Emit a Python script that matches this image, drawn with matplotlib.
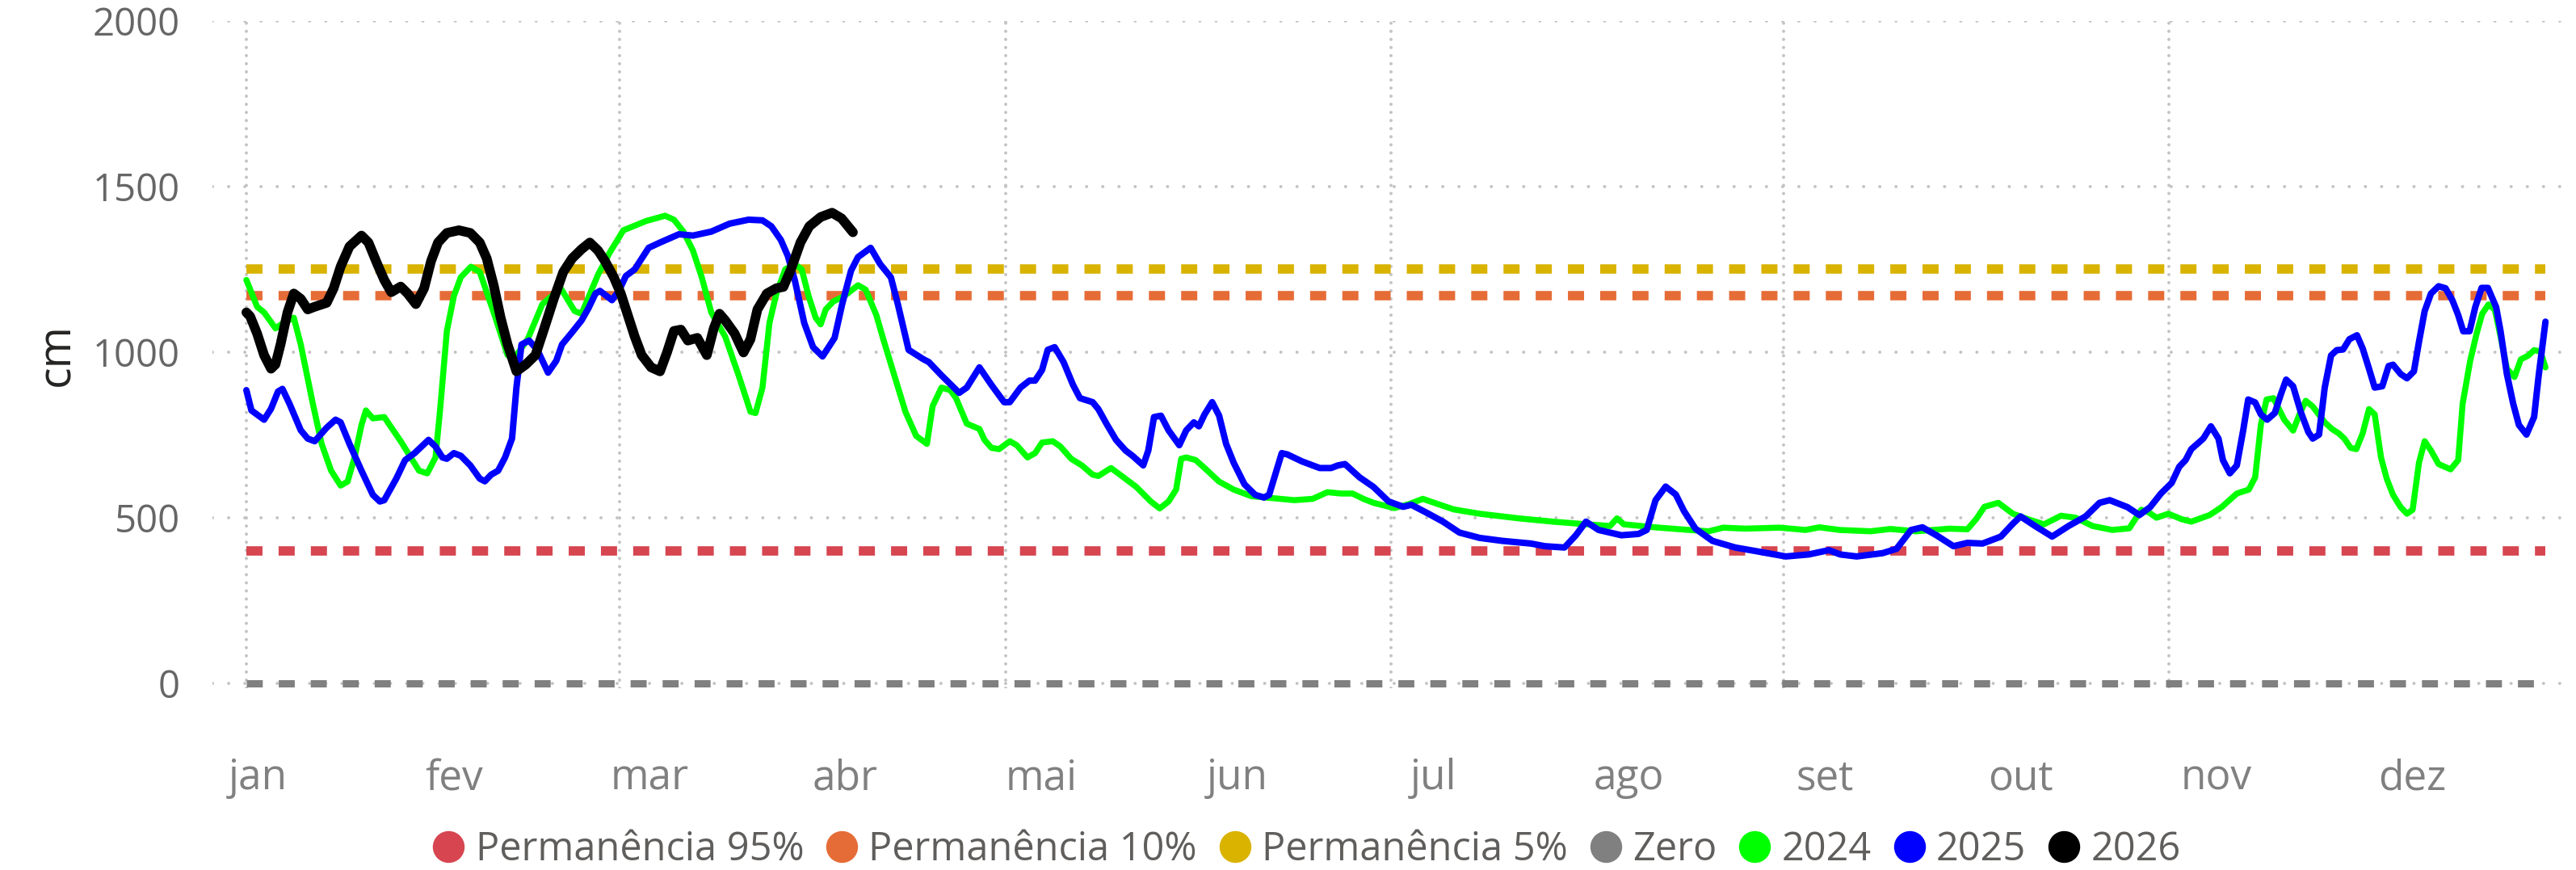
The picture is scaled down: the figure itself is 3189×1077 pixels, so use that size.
import numpy as np
import matplotlib
matplotlib.use("Agg")
import matplotlib.pyplot as plt
from matplotlib.lines import Line2D

plt.rcParams["font.family"] = ["Open Sans", "DejaVu Sans"]

# ---------------------------------------------------------
# Data (day of year, value in cm)
# ---------------------------------------------------------
months = ["jan", "fev", "mar", "abr", "mai", "jun",
          "jul", "ago", "set", "out", "nov", "dez"]

ref_days = [0, 363.5]
perm95 = 400
perm10 = 1170
perm5 = 1250
zero = 0

days_2024 = [0, 1.7, 2.8, 4.6, 6.0, 7.5, 8.6, 10.5, 11.9, 13.4, 14.9, 16.0, 17.1, 18.2, 18.9, 20.0,
             21.8, 24.4, 27.3, 28.6, 29.9, 30.6, 31.7, 32.8, 33.9, 35.5, 36.9, 39.1, 41.3, 42.5,
             44.5, 46.8, 49.7, 51.9, 53.0, 55.6, 57.4, 59.6, 63.2, 66.2, 67.6, 69.1, 70.6, 72.0,
             73.5, 75.7, 77.9, 79.7, 80.5, 81.6, 82.7, 83.8, 85.2, 86.7, 87.8, 88.9, 90.0, 90.8,
             91.6, 92.8, 94.5, 96.7, 97.9, 99.6, 100.7, 102.5, 104.2, 105.9, 107.6, 108.5, 109.9,
             111.3, 112.2, 113.9, 115.9, 116.7, 117.8, 119.0, 120.7, 121.8, 123.5, 124.7, 125.8,
             127.5, 128.7, 130.4, 132.1, 133.8, 134.7, 136.7, 138.4, 140.7, 143.0, 144.4, 145.8,
             147.0, 147.8, 148.6, 150.1, 151.5, 153.8, 156.1, 158.9, 163.5, 165.7, 168.6, 170.9,
             173.1, 174.9, 176.6, 178.2, 181.5, 183.8, 186.0, 187.8, 190.9, 195.0, 201.2, 206.6,
             212.0, 215.6, 216.7, 217.8, 222.7, 228.1, 231.2, 233.5, 237.0, 242.4, 246.5, 248.7,
             251.9, 256.8, 259.9, 264.0, 269.3, 272.1, 273.5, 274.8, 277.0, 279.3, 281.6, 284.2,
             286.9, 289.2, 291.9, 295.0, 297.7, 299.6, 300.8, 302.0, 303.9, 305.9, 307.5, 310.4,
             312.3, 314.7, 316.6, 317.6, 318.5, 319.4, 320.5, 322.2, 323.6, 324.6, 325.6, 326.7,
             328.6, 329.8, 330.8, 331.7, 332.7, 333.6, 334.6, 335.6, 336.5, 337.5, 338.4, 339.4,
             340.6, 341.6, 342.5, 343.5, 344.4, 345.4, 346.6, 348.5, 349.7, 350.4, 351.6, 352.6,
             353.5, 354.5, 355.5, 356.4, 357.4, 358.6, 359.6, 360.8, 361.7, 362.7, 363.5]
vals_2024 = [1218, 1137, 1120, 1072, 1090, 1104, 1023, 845, 723, 642, 597, 609, 682, 780, 824, 800,
             804, 731, 642, 634, 682, 820, 1064, 1169, 1226, 1258, 1242, 1120, 991, 985,
             1040, 1145, 1193, 1124, 1116, 1234, 1299, 1368, 1396, 1412, 1400, 1364, 1307, 1226,
             1120, 1047, 926, 820, 816, 893, 1088, 1177, 1250, 1266, 1250, 1169, 1104, 1084,
             1129, 1153, 1169, 1202, 1189, 1112, 1039, 926, 820, 747, 723, 837, 893,
             885, 861, 784, 768, 735, 711, 707, 731, 719, 682, 695, 727,
             731, 715, 678, 658, 630, 626, 650, 626, 593, 549, 528, 549,
             585, 678, 682, 674, 650, 609, 585, 565, 557, 553, 557, 577,
             573, 573, 557, 545, 529, 541, 557, 545, 525, 512, 498, 488,
             480, 475, 498, 480, 471, 463, 459, 470, 467, 470, 463, 471,
             463, 459, 466, 459, 467, 465, 496, 533, 545, 512, 496, 480,
             506, 500, 475, 463, 468, 524, 516, 500, 512, 496, 488, 508,
             532, 573, 585, 622, 780, 857, 861, 796, 763, 812, 853, 836,
             788, 767, 755, 739, 711, 707, 755, 828, 812, 682, 618, 569,
             532, 512, 524, 666, 731, 703, 662, 646, 674, 844, 974, 1055,
             1116, 1144, 1128, 1047, 950, 925, 978, 990, 1006, 1002, 954]

days_2025 = [0, 0.8, 2.8, 3.9, 5.0, 5.7, 6.8, 8.6, 9.7, 10.8, 12.7, 14.1, 14.9, 16.3, 18.2, 20.0,
             21.1, 21.8, 23.7, 25.1, 26.6, 28.8, 29.9, 31.0, 31.7, 32.8, 33.9, 35.4, 36.9, 37.7,
             38.7, 39.8, 40.9, 42.0, 42.7, 43.5, 44.7, 46.0, 47.7, 49.0, 49.9, 51.5, 53.0, 54.1,
             55.2, 55.9, 57.8, 58.9, 60.0, 61.4, 63.6, 65.4, 68.4, 70.6, 73.5, 76.4, 79.4, 81.6,
             83.0, 84.5, 85.6, 86.7, 88.2, 89.6, 91.1, 93.0, 94.2, 95.6, 96.7, 98.7, 100.2, 101.9,
             103.0, 104.7, 107.0, 107.9, 109.9, 112.7, 113.9, 115.9, 117.8, 119.8, 120.7, 122.4,
             123.8, 124.7, 125.8, 126.7, 127.8, 129.2, 130.7, 131.8, 133.8, 134.7, 136.1, 137.5,
             139.0, 140.1, 141.8, 142.6, 143.5, 144.6, 145.8, 147.5, 148.6, 149.8, 150.6, 151.5,
             152.7, 153.8, 154.9, 156.1, 157.8, 159.5, 160.9, 161.7, 163.7, 164.6, 166.9, 169.7,
             171.5, 172.6, 173.7, 176.0, 178.2, 180.6, 182.9, 184.2, 186.9, 189.2, 191.8, 195.0,
             198.6, 203.1, 205.3, 208.4, 210.2, 211.8, 213.8, 217.4, 220.1, 221.4, 222.8, 224.4,
             226.0, 227.3, 229.1, 231.8, 235.4, 239.0, 243.4, 247.0, 250.2, 252.0, 254.6, 258.7,
             260.9, 263.2, 265.0, 267.2, 269.9, 272.1, 274.5, 277.4, 279.2, 280.5, 282.8, 285.5,
             288.1, 290.8, 293.0, 294.6, 297.4, 299.3, 301.0, 302.7, 304.4, 305.6, 306.6, 307.5,
             309.4, 310.6, 311.8, 312.5, 313.6, 314.7, 315.7, 316.5, 317.6, 318.5, 319.5, 320.7,
             321.6, 322.5, 323.6, 324.8, 326.0, 326.7, 327.7, 328.6, 329.6, 330.5, 331.5, 332.5,
             333.7, 334.6, 335.6, 336.5, 337.7, 338.7, 339.4, 340.6, 341.6, 342.7, 343.5, 344.4,
             345.4, 346.6, 347.7, 348.8, 349.7, 350.5, 351.5, 352.4, 353.4, 354.4, 355.7, 356.4,
             357.4, 358.4, 359.3, 360.5, 361.7, 362.4, 363.5]
vals_2025 = [885, 824, 796, 829, 881, 889, 845, 764, 739, 731, 772, 796, 788, 723, 642, 569,
             549, 553, 618, 674, 695, 735, 715, 682, 678, 695, 687, 658, 618, 610,
             630, 642, 682, 739, 893, 1023, 1035, 1007, 938, 974, 1023, 1060, 1096, 1133,
             1177, 1185, 1157, 1185, 1230, 1250, 1315, 1331, 1356, 1352, 1364, 1388, 1400, 1398,
             1380, 1339, 1291, 1218, 1088, 1015, 987, 1043, 1145, 1246, 1287, 1315, 1266, 1226,
             1145, 1007, 979, 970, 930, 877, 893, 954, 901, 849, 849, 893,
             914, 914, 946, 1007, 1015, 970, 901, 861, 849, 828, 780, 735,
             703, 687, 658, 703, 804, 808, 764, 719, 764, 788, 776, 812,
             849, 808, 723, 666, 601, 569, 561, 569, 695, 691, 670, 650,
             650, 658, 662, 622, 593, 549, 533, 539, 512, 488, 455, 439,
             430, 422, 414, 410, 447, 488, 463, 447, 451, 463, 553, 594,
             570, 520, 467, 430, 410, 398, 383, 389, 402, 389, 383, 393,
             406, 463, 471, 447, 414, 424, 422, 443, 480, 504, 475, 443,
             475, 504, 545, 553, 532, 508, 532, 573, 605, 654, 674, 707,
             739, 776, 739, 674, 634, 658, 763, 857, 848, 812, 796, 816,
             869, 917, 897, 820, 759, 739, 751, 893, 990, 1006, 1008, 1039,
             1051, 1011, 950, 893, 897, 958, 962, 934, 921, 942, 1031, 1124,
             1177, 1199, 1193, 1156, 1112, 1063, 1063, 1136, 1194, 1194, 1136, 1063,
             934, 844, 780, 751, 804, 925, 1092]

days_2026 = [0, 0.6, 1.7, 2.8, 3.9, 4.6, 5.4, 6.5, 7.5, 8.6, 9.7, 10.8, 12.7, 13.8, 14.9, 16.3,
             18.2, 19.3, 20.7, 21.8, 22.9, 24.4, 25.5, 26.8, 28.1, 29.2, 30.3, 31.7, 33.6, 35.4,
             36.9, 38.0, 39.1, 40.2, 41.3, 42.7, 44.2, 45.7, 47.1, 48.6, 50.1, 51.5, 53.0, 54.3,
             55.6, 56.7, 58.1, 59.2, 60.3, 61.4, 62.5, 64.0, 65.4, 66.5, 67.6, 68.7, 69.8, 71.3,
             72.8, 73.9, 74.8, 75.7, 77.2, 78.6, 79.7, 80.8, 82.3, 83.8, 84.9, 86.1, 87.6, 89.0,
             90.8, 92.6, 94.1, 95.9]
vals_2026 = [1120, 1108, 1056, 991, 950, 963, 1023, 1120, 1177, 1161, 1129, 1137, 1149, 1193, 1258, 1319,
             1352, 1331, 1266, 1218, 1181, 1198, 1177, 1145, 1193, 1275, 1331, 1360, 1368, 1360,
             1331, 1283, 1202, 1104, 1023, 942, 963, 991, 1072, 1161, 1242, 1283, 1311, 1331,
             1307, 1275, 1226, 1177, 1112, 1047, 991, 954, 942, 999, 1064, 1068, 1035, 1043,
             991, 1072, 1116, 1096, 1056, 999, 1039, 1129, 1177, 1193, 1197, 1250, 1331, 1380,
             1408, 1421, 1404, 1362]

# ----------------
# Figure and axes
# ----------------
W, H = 3189, 1077
fig = plt.figure(figsize=(W / 100, H / 100), dpi=100)
ax_left, ax_right, ax_top = 263 / W, 3185 / W, 1 - 26 / H
ax_bottom = 1 - 852 / H
ax = fig.add_axes([ax_left, ax_bottom, ax_right - ax_left, ax_top - ax_bottom])

px = 72 / 100  # one pixel in points

# reference lines
ref_style = dict(linewidth=11.6 * px, solid_capstyle="butt", dash_capstyle="butt")
ax.plot(ref_days, [perm95] * 2, color="#D64550", linestyle=(0, (1.72, 1.72)), **ref_style)
ax.plot(ref_days, [perm10] * 2, color="#E66C37", linestyle=(0, (1.72, 1.72)), **ref_style)
ax.plot(ref_days, [perm5] * 2, color="#D9B300", linestyle=(0, (1.72, 1.72)), **ref_style)
ax.plot(ref_days, [zero] * 2, color="#808080", linewidth=9 * px,
        linestyle=(0, (2.2, 2.2)), dash_capstyle="butt")

# yearly series
line_style = dict(solid_joinstyle="round", solid_capstyle="round")
ax.plot(days_2024, vals_2024, color="#00FF00", linewidth=7.5 * px, **line_style)
ax.plot(days_2025, vals_2025, color="#0000FF", linewidth=8 * px, **line_style)
ax.plot(days_2026, vals_2026, color="#000000", linewidth=12 * px, **line_style)

# axes limits and ticks
ax.set_xlim(-42 / 7.83, (3185 - 305) / 7.83)
ax.set_ylim(-15, 2000)

label_days = np.arange(12) * 30.97 + 1.8
ax.set_xticks(label_days)
ax.set_xticklabels(months)
ax.set_xticks([0, 59, 120, 181, 243, 304], minor=True)
ax.set_yticks([0, 500, 1000, 1500, 2000])

ax.tick_params(axis="x", which="both", length=0, pad=62, labelsize=37, labelcolor="#808080")
ax.tick_params(axis="y", length=0, pad=29, labelsize=34, labelcolor="#666666")

# dotted grid: round dots of 4 px
ax.grid(False)
ax.grid(which="minor", axis="x", color="#C4C4C4", linewidth=4 * px,
        linestyle=(0, (0.01, 2.5)), dash_capstyle="round")
ax.grid(which="major", axis="y", color="#C4C4C4", linewidth=4 * px,
        linestyle=(0, (0.01, 5)), dash_capstyle="round")
ax.set_axisbelow(True)
for s in ax.spines.values():
    s.set_visible(False)

ax.set_ylabel("cm", fontsize=40, color="#252423")
ax.yaxis.label.set_va("center")
ax.yaxis.set_label_coords((71 - 263) / (3185 - 263), 0.5)

# legend
names = ["Permanência 95%", "Permanência 10%", "Permanência 5%", "Zero", "2024", "2025", "2026"]
colors = ["#D64550", "#E66C37", "#D9B300", "#808080", "#00FF00", "#0000FF", "#000000"]
handles = [Line2D([], [], marker="o", linestyle="none", markersize=38 * px,
                  markerfacecolor=c, markeredgecolor=c) for c in colors]
fig.legend(handles, names, loc="center", bbox_to_anchor=(1618 / W, 1 - 1052 / H),
           ncol=7, frameon=False, fontsize=35, labelcolor="#605E5C",
           handlelength=0.78, handletextpad=0.29, columnspacing=0.58,
           borderpad=0, borderaxespad=0)

fig.savefig("out.png", dpi=100)
